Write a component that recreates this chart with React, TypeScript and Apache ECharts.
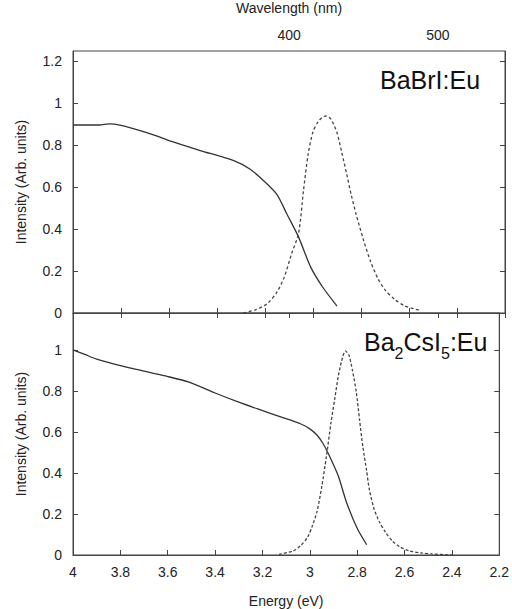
import React, { useEffect, useRef } from "react";
import * as echarts from "echarts";

// Energy axis (eV) tick values
const energyTicks = [4, 3.8, 3.6, 3.4, 3.2, 3.0, 2.8, 2.6, 2.4, 2.2];
// Wavelength (nm) tick labels on the top axis
const wavelengthTicks = [400, 500];
const HC = 1239.84; // eV*nm
const topYTicks = [0, 0.2, 0.4, 0.6, 0.8, 1.0, 1.2];
const bottomYTicks = [0, 0.2, 0.4, 0.6, 0.8, 1.0];

// BaBrI:Eu excitation (solid)
const babriExcE = [4.0, 3.95, 3.89, 3.85, 3.8, 3.72, 3.64, 3.6, 3.47, 3.33, 3.26, 3.2, 3.15, 3.11, 3.06, 3.01, 2.96, 2.9];
const babriExcI = [0.897, 0.897, 0.897, 0.902, 0.895, 0.87, 0.84, 0.822, 0.775, 0.727, 0.685, 0.625, 0.565, 0.475, 0.362, 0.22, 0.124, 0.033];
// BaBrI:Eu emission (dashed)
const babriEmE = [3.29, 3.24, 3.19, 3.15, 3.12, 3.09, 3.06, 3.04, 3.02, 3.0, 2.98, 2.96, 2.945, 2.925, 2.9, 2.88, 2.86, 2.84, 2.82, 2.79, 2.76, 2.73, 2.7, 2.66, 2.62, 2.58, 2.55];
const babriEmI = [0.0, 0.015, 0.045, 0.1, 0.17, 0.28, 0.38, 0.58, 0.76, 0.865, 0.91, 0.935, 0.94, 0.925, 0.86, 0.765, 0.665, 0.56, 0.47, 0.35, 0.245, 0.165, 0.11, 0.065, 0.035, 0.02, 0.012];

// Ba2CsI5:Eu excitation (solid)
const bacsExcE = [4.0, 3.95, 3.9, 3.8, 3.7, 3.61, 3.51, 3.4, 3.3, 3.22, 3.12, 3.04, 3.0, 2.97, 2.945, 2.92, 2.88, 2.846, 2.8, 2.76];
const bacsExcI = [1.0, 0.978, 0.955, 0.923, 0.897, 0.873, 0.843, 0.79, 0.745, 0.712, 0.672, 0.64, 0.615, 0.585, 0.545, 0.49, 0.386, 0.26, 0.13, 0.05];
// Ba2CsI5:Eu emission (dashed)
const bacsEmE = [3.13, 3.07, 3.04, 3.01, 2.99, 2.97, 2.95, 2.93, 2.91, 2.894, 2.88, 2.867, 2.85, 2.835, 2.82, 2.804, 2.79, 2.776, 2.76, 2.749, 2.73, 2.707, 2.68, 2.651, 2.62, 2.58, 2.53, 2.485, 2.4];
const bacsEmI = [0.003, 0.02, 0.045, 0.085, 0.14, 0.21, 0.33, 0.48, 0.65, 0.767, 0.87, 0.94, 0.995, 0.975, 0.9, 0.797, 0.66, 0.527, 0.41, 0.321, 0.23, 0.163, 0.11, 0.068, 0.04, 0.02, 0.01, 0.005, 0.0];

const zip = (a: number[], b: number[]) => a.map((v, i) => [v, b[i]]);
const FONT = "Liberation Sans";
const TXT = "#222";
const AX = "#444";
const fmt = (v: number) => String(+Number(v).toFixed(1));

export default function App() {
  const ref = useRef<HTMLDivElement>(null);
  useEffect(() => {
    if (!ref.current) return;
    const chart = echarts.init(ref.current, undefined, { renderer: "svg" });
    const axisLine = { show: true, lineStyle: { color: AX, width: 1 } };
    const label = { color: TXT, fontFamily: FONT, fontSize: 14 };
    const nameStyle = { color: TXT, fontFamily: FONT, fontSize: 14 };
    const wlEnergies = wavelengthTicks.map((w) => HC / w);
    const option: any = {
      animation: false,
      backgroundColor: "#fff",
      grid: [
        { left: 73, top: 51, width: 432, height: 262, show: true, borderColor: AX, borderWidth: 1, backgroundColor: "transparent" },
        { left: 73, top: 313, width: 432, height: 248, show: true, borderColor: AX, borderWidth: 1, backgroundColor: "transparent" },
      ],
      xAxis: [
        {
          gridIndex: 0, type: "value", position: "bottom", min: 2.2, max: 4, inverse: true,
          axisLine, splitLine: { show: false },
          axisTick: { show: true, inside: true, length: 5, lineStyle: { color: AX }, customValues: energyTicks },
          axisLabel: { show: false },
        },
        {
          gridIndex: 0, type: "value", position: "top", min: 2.2, max: 4, inverse: true,
          axisLine, splitLine: { show: false },
          name: "Wavelength (nm)", nameLocation: "middle", nameGap: 36, nameTextStyle: nameStyle,
          axisTick: { show: true, inside: true, length: 5, lineStyle: { color: AX }, customValues: [...energyTicks, ...wlEnergies] },
          axisLabel: { ...label, margin: 9, customValues: wlEnergies, formatter: (v: number) => String(Math.round(HC / v)) },
        },
        {
          gridIndex: 1, type: "value", position: "bottom", min: 2.2, max: 4, inverse: true,
          axisLine, splitLine: { show: false },
          name: "Energy (eV)", nameLocation: "middle", nameGap: 39, nameTextStyle: nameStyle,
          axisTick: { show: true, inside: true, length: 5, lineStyle: { color: AX }, customValues: energyTicks },
          axisLabel: { ...label, margin: 10, customValues: energyTicks, formatter: fmt, showMaxLabel: true, showMinLabel: true },
        },
      ],
      yAxis: [
        {
          gridIndex: 0, type: "value", position: "left", min: 0, max: 1.25,
          axisLine, splitLine: { show: false },
          name: "Intensity (Arb. units)", nameLocation: "middle", nameRotate: 90, nameGap: 45, nameTextStyle: nameStyle,
          axisTick: { show: true, inside: true, length: 5, lineStyle: { color: AX }, customValues: topYTicks },
          axisLabel: { ...label, margin: 11, customValues: topYTicks, formatter: fmt },
        },
        {
          gridIndex: 0, type: "value", position: "right", min: 0, max: 1.25,
          axisLine, splitLine: { show: false },
          axisTick: { show: true, inside: true, length: 5, lineStyle: { color: AX }, customValues: topYTicks },
          axisLabel: { show: false },
        },
        {
          gridIndex: 1, type: "value", position: "left", min: 0, max: 1.18,
          axisLine, splitLine: { show: false },
          name: "Intensity (Arb. units)", nameLocation: "middle", nameRotate: 90, nameGap: 45, nameTextStyle: nameStyle,
          axisTick: { show: true, inside: true, length: 5, lineStyle: { color: AX }, customValues: bottomYTicks },
          axisLabel: { ...label, margin: 11, customValues: bottomYTicks, formatter: fmt },
        },
        {
          gridIndex: 1, type: "value", position: "right", min: 0, max: 1.18,
          axisLine, splitLine: { show: false },
          axisTick: { show: true, inside: true, length: 5, lineStyle: { color: AX }, customValues: bottomYTicks },
          axisLabel: { show: false },
        },
      ],
      series: [
        {
          name: "BaBrI:Eu excitation", type: "line", xAxisIndex: 0, yAxisIndex: 0, data: zip(babriExcE, babriExcI),
          showSymbol: false, symbol: "none", smooth: 0.25, lineStyle: { color: "#333", width: 1.3 },
        },
        {
          name: "BaBrI:Eu emission", type: "line", xAxisIndex: 0, yAxisIndex: 0, data: zip(babriEmE, babriEmI),
          showSymbol: false, symbol: "none", smooth: 0.25, lineStyle: { color: "#444", width: 1.3, type: [3, 2.5] },
        },
        {
          name: "Ba2CsI5:Eu excitation", type: "line", xAxisIndex: 2, yAxisIndex: 2, data: zip(bacsExcE, bacsExcI),
          showSymbol: false, symbol: "none", smooth: 0.25, lineStyle: { color: "#333", width: 1.3 },
        },
        {
          name: "Ba2CsI5:Eu emission", type: "line", xAxisIndex: 2, yAxisIndex: 2, data: zip(bacsEmE, bacsEmI),
          showSymbol: false, symbol: "none", smooth: 0.25, lineStyle: { color: "#444", width: 1.3, type: [3, 2] },
        },
      ],
      graphic: [
        {
          type: "text", left: 380, top: 67,
          style: { text: "BaBrI:Eu", fontFamily: FONT, fontSize: 25, fill: "#111" },
        },
        {
          type: "text", x: 364, y: 329,
          style: {
            text: "{n|Ba}{s|2}{n|CsI}{s|5}{n|:Eu}",
            fill: "#111",
            verticalAlign: "top",
            rich: {
              n: { fontFamily: FONT, fontSize: 25, lineHeight: 30, verticalAlign: "top", fill: "#111" },
              s: { fontFamily: FONT, fontSize: 16, lineHeight: 16, verticalAlign: "top", padding: [16, 0, 0, 0], fill: "#111" },
            },
          },
        },
      ],
    };
    chart.setOption(option);
    return () => chart.dispose();
  }, []);
  return <div ref={ref} style={{ position: "absolute", left: 0, top: 0, width: 512, height: 609, background: "#fff" }} />;
}
